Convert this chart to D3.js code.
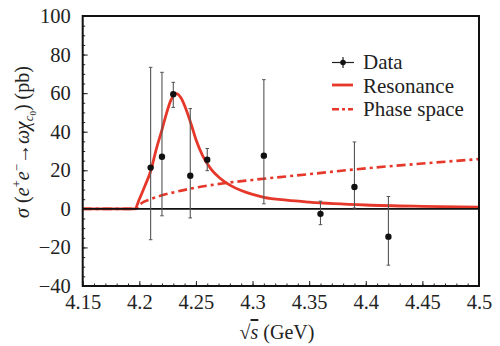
<!DOCTYPE html>
<html>
<head>
<meta charset="utf-8">
<script src="https://cdn.jsdelivr.net/npm/d3@7"></script>
<style>
  body { margin: 0; background: #fff; }
  text { font-family: "Liberation Serif", "DejaVu Serif", serif; fill: #222; }
</style>
</head>
<body>
<svg id="chart" width="500" height="346"></svg>
<script>
// data
var dataE    = [4.21, 4.22, 4.23, 4.245, 4.26, 4.31, 4.36, 4.39, 4.42];
var dataSig  = [21.4, 27, 59.4, 17.2, 25.5, 27.6, -2.6, 11.3, -14.4];
var dataHi   = [73.4, 70.8, 65.6, 52, 31.3, 67, 4, 34.7, 6.4];
var dataLo   = [-16, -3.6, 52.6, -4.7, 19.8, 2.6, -8.2, 0.4, -29.2];

var resE   = [4.15, 4.196, 4.2, 4.205, 4.21, 4.215, 4.22, 4.224, 4.228, 4.2325, 4.237, 4.2415, 4.246, 4.25, 4.256, 4.2635, 4.271, 4.28, 4.29, 4.3, 4.31, 4.33, 4.35, 4.4, 4.45, 4.5];
var resSig = [0, 0, 5, 12, 19.5, 31, 41, 49.5, 56.5, 59.8, 57.4, 51.3, 43.5, 36, 27.5, 20.5, 16, 12.3, 9.5, 7.5, 6, 4.5, 3.5, 2, 1.3, 0.9];

var phsE   = [4.15, 4.197, 4.2, 4.21, 4.22, 4.23, 4.25, 4.275, 4.3, 4.35, 4.4, 4.45, 4.5];
var phsSig = [0, 0, 2, 5, 7, 8.5, 11, 13.3, 15, 18, 21, 23.5, 25.8];

var xTicks = [4.15, 4.2, 4.25, 4.3, 4.35, 4.4, 4.45, 4.5];
var yTicks = [-40, -20, 0, 20, 40, 60, 80, 100];

var red = "#e5382a";
var svg = d3.select("#chart");
var pL = 82.7, pR = 479, pT = 16, pB = 286;

var x = d3.scaleLinear().domain([4.15, 4.5]).range([pL, pR]);
var y = d3.scaleLinear().domain([-40, 100]).range([pB, pT]);

// minor + major ticks, pointing inwards
var xAxis = d3.axisBottom(x).tickValues(xTicks).tickSize(-5).tickPadding(8)
	.tickFormat(function(d){ return "" + (+d.toFixed(2)); });
var xMinor = d3.axisBottom(x).tickValues(d3.range(4.15, 4.501, 0.01)).tickSize(-2.5).tickFormat("");
var yAxis = d3.axisLeft(y).tickValues(yTicks).tickSize(-5).tickPadding(12)
	.tickFormat(function(d){ return d < 0 ? "\u2212" + (-d) : d; });
var yMinor = d3.axisLeft(y).tickValues(d3.range(-40, 101, 5)).tickSize(-2.5).tickFormat("");

[[xMinor, "translate(0," + pB + ")"], [xAxis, "translate(0," + pB + ")"],
 [yMinor, "translate(" + pL + ",0)"], [yAxis, "translate(" + pL + ",0)"]].forEach(function(a){
	var g = svg.append("g").attr("transform", a[1]).call(a[0]);
	g.select(".domain").remove();
	g.selectAll("line").attr("stroke", "#222").attr("stroke-width", 1);
	g.selectAll("text").attr("font-size", "20.5px").attr("fill", "#222")
		.style("font-family", "Liberation Serif, serif");
});

// curves
var line = function(xs, ys){
	return d3.line().curve(d3.curveMonotoneX)
		.x(function(d, i){ return x(xs[i]); })
		.y(function(d, i){ return y(ys[i]); })(xs);
};
svg.append("path").attr("d", line(phsE, phsSig)).attr("fill", "none")
	.attr("stroke", red).attr("stroke-width", 2.6).attr("stroke-dasharray", "9,4,3,4");
svg.append("path").attr("d", line(resE, resSig)).attr("fill", "none")
	.attr("stroke", red).attr("stroke-width", 2.8);

// zero line
svg.append("line").attr("x1", pL).attr("x2", pR).attr("y1", y(0)).attr("y2", y(0))
	.attr("stroke", "#111").attr("stroke-width", 1.6);

// data with error bars
var pts = svg.append("g").selectAll("g").data(dataE).enter().append("g");
pts.append("line").attr("x1", function(d){ return x(d); }).attr("x2", function(d){ return x(d); })
	.attr("y1", function(d, i){ return y(dataHi[i]); }).attr("y2", function(d, i){ return y(dataLo[i]); })
	.attr("stroke", "#555").attr("stroke-width", 1.1);
[dataHi, dataLo].forEach(function(arr){
	pts.append("line").attr("x1", function(d){ return x(d) - 1.8; }).attr("x2", function(d){ return x(d) + 1.8; })
		.attr("y1", function(d, i){ return y(arr[i]); }).attr("y2", function(d, i){ return y(arr[i]); })
		.attr("stroke", "#555").attr("stroke-width", 1);
});
pts.append("circle").attr("cx", function(d){ return x(d); }).attr("cy", function(d, i){ return y(dataSig[i]); })
	.attr("r", 3.2).attr("fill", "#111");

// frame
svg.append("rect").attr("x", pL).attr("y", pT).attr("width", pR - pL).attr("height", pB - pT)
	.attr("fill", "none").attr("stroke", "#111").attr("stroke-width", 2);

// legend
var lg = svg.append("g").attr("font-size", "21px");
lg.append("line").attr("x1", 332).attr("x2", 354).attr("y1", 62.5).attr("y2", 62.5).attr("stroke", "#222").attr("stroke-width", 1.2);
lg.append("line").attr("x1", 343).attr("x2", 343).attr("y1", 57).attr("y2", 68).attr("stroke", "#222").attr("stroke-width", 1.2);
lg.append("circle").attr("cx", 343).attr("cy", 62.5).attr("r", 2.8).attr("fill", "#111");
lg.append("text").attr("x", 363).attr("y", 68.5).text("Data");
lg.append("line").attr("x1", 332).attr("x2", 353).attr("y1", 85).attr("y2", 85).attr("stroke", red).attr("stroke-width", 2.8);
lg.append("text").attr("x", 363).attr("y", 92.5).text("Resonance");
lg.append("line").attr("x1", 332).attr("x2", 353).attr("y1", 109.3).attr("y2", 109.3).attr("stroke", red)
	.attr("stroke-width", 2.6).attr("stroke-dasharray", "7,3,3,3");
lg.append("text").attr("x", 363).attr("y", 116).text("Phase space");

// axis titles
var xt = svg.append("text").attr("x", 277).attr("y", 339).attr("text-anchor", "middle").attr("font-size", "20px");
xt.append("tspan").text("\u221A");
xt.append("tspan").attr("font-style", "italic").style("text-decoration", "overline").text("s");
xt.append("tspan").text(" (GeV)");

var yt = svg.append("text").attr("transform", "translate(29,142) rotate(-90)")
	.attr("text-anchor", "middle").attr("font-size", "20px");
yt.append("tspan").attr("font-style", "italic").text("\u03C3");
yt.append("tspan").text(" (");
yt.append("tspan").attr("font-style", "italic").text("e");
yt.append("tspan").attr("font-size", "13px").attr("dy", -8).text("+");
yt.append("tspan").attr("font-style", "italic").attr("dy", 8).text("e");
yt.append("tspan").attr("font-size", "13px").attr("dy", -8).text("\u2212");
yt.append("tspan").attr("dy", 8).text("\u2192");
yt.append("tspan").attr("font-style", "italic").text("\u03C9\u03C7");
yt.append("tspan").attr("font-style", "italic").attr("font-size", "13px").attr("dy", 4).text("c");
yt.append("tspan").attr("font-size", "9px").attr("dy", 3).text("0");
yt.append("tspan").attr("dy", -7).text(") (pb)");
</script>
</body>
</html>
